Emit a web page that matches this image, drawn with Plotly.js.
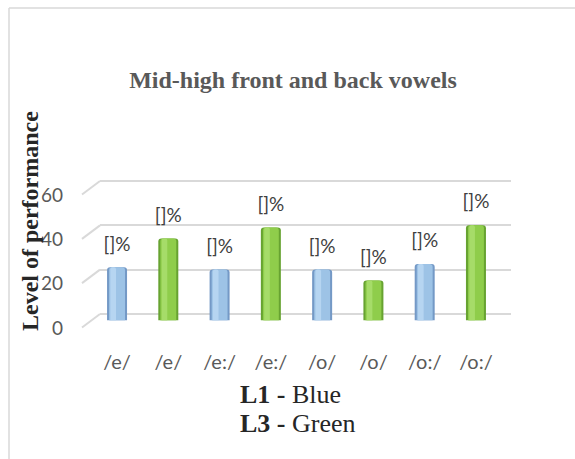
<!DOCTYPE html>
<html><head><meta charset="utf-8">
<script src="https://cdn.plot.ly/plotly-3.0.1.min.js"></script>
<style>html,body{margin:0;padding:0;background:#fff}</style>
</head><body><div id="chart" style="width:575px;height:459px"></div>
<script>
// ---- data ----
const categories = ['/e/', '/e/', '/e:/', '/e:/', '/o/', '/o/', '/o:/', '/o:/'];
const groups = ['L1', 'L3', 'L1', 'L3', 'L1', 'L3', 'L1', 'L3'];
const values = [24, 37, 23, 42, 23, 18, 25.5, 43];
const valueLabels = ['[]%', '[]%', '[]%', '[]%', '[]%', '[]%', '[]%', '[]%'];
const yTicks = [0, 20, 40, 60];
const titleText = 'Mid-high front and back vowels';
const yTitleText = 'Level of performance';
const legendLines = ['<b>L1 -</b> Blue', '<b>L3 -</b> Green'];

// ---- style ----
const W = 575, H = 459;
const px = v => v / W;
const py = v => 1 - v / H;
const palette = {
  L1: {edge: '#7499c6', body: '#9dc3e6', light: '#b6d5f1'},
  L3: {edge: '#67a331', body: '#8fcd4b', light: '#a6dc69'}
};
const idx = categories.map((c, i) => i);
const col = k => groups.map(g => palette[g][k]);

// back-wall geometry (pixels)
const backZero = 314, pxPerUnit = 133 / 60;
const backY = v => backZero - v * pxPerUnit;

const layers = [
  {w: 0.39, k: 'edge', off: null},
  {w: 0.31, k: 'body', off: null},
  {w: 0.11, k: 'light', off: -0.13}
];
const traces = [];
// empty helper trace so the gridline subplot renders
traces.push({type: 'scatter', x: [], y: [], xaxis: 'x', yaxis: 'y', showlegend: false, hoverinfo: 'skip'});
layers.forEach(l => {
  const t = {
    type: 'bar', x: idx, y: values, xaxis: 'x2', yaxis: 'y2',
    width: l.w, marker: {color: col(l.k), line: {width: 0}},
    showlegend: false, hoverinfo: 'skip'
  };
  if (l.off !== null) t.offset = l.off;
  traces.push(t);
});
traces.push({
  type: 'scatter', mode: 'text', x: idx, y: values, text: valueLabels,
  textposition: 'top center', xaxis: 'x2', yaxis: 'y3',
  textfont: {family: 'Lato, sans-serif', size: 19, color: '#404040'},
  showlegend: false, hoverinfo: 'skip', cliponaxis: false
});

const shapes = [
  {type: 'line', xref: 'paper', yref: 'paper', x0: px(9), x1: 1.01, y0: py(8), y1: py(8), line: {color: '#d9d9d9', width: 1.5}},
  {type: 'line', xref: 'paper', yref: 'paper', x0: px(9), x1: px(9), y0: py(8), y1: -0.01, line: {color: '#d9d9d9', width: 1.5}}
];
yTicks.forEach(v => {
  shapes.push({type: 'line', xref: 'paper', yref: 'paper', x0: px(100), x1: px(82), y0: py(backY(v)), y1: py(backY(v) + 13.5),
    line: {color: '#d9d9d9', width: 2}, layer: 'below'});
});

const gridFont = {family: 'Lato, sans-serif', size: 19, color: '#595959'};
const layout = {
  width: W, height: H, margin: {l: 0, r: 0, t: 0, b: 0},
  paper_bgcolor: '#fff', plot_bgcolor: 'rgba(0,0,0,0)',
  barmode: 'overlay', barcornerradius: 3, hovermode: false, showlegend: false,
  title: {text: titleText, x: px(293), xanchor: 'center', y: py(80), yanchor: 'middle',
    font: {family: '"Liberation Serif", "Times New Roman", serif', size: 24, color: '#595959', weight: 'bold'}},
  xaxis: {domain: [px(100), px(511)], range: [-0.5, 7.5], showticklabels: false, showgrid: false, zeroline: false, showline: false, ticks: '', anchor: 'y'},
  yaxis: {domain: [1 - backY(-2) / H, 1 - backY(62) / H], range: [-2, 62], tickvals: yTicks, showgrid: true, gridcolor: '#d9d9d9', gridwidth: 2,
    zeroline: false, showline: false, ticks: '', anchor: 'x', ticklabelshift: 14, ticklabelstandoff: 36,
    tickfont: gridFont},
  xaxis2: {domain: [px(91.4), px(501.6)], range: [-0.5, 7.5], tickvals: idx, ticktext: categories, anchor: 'y2',
    showgrid: false, zeroline: false, showline: false, ticks: '', ticklabelstandoff: 27,
    tickfont: {family: 'Lato, sans-serif', size: 20, color: '#595959'}},
  yaxis2: {domain: [1 - 320.5 / H, 1 - 187.5 / H], range: [0, 60], visible: false, anchor: 'x2'},
  yaxis3: {overlaying: 'y2', range: [-5.4, 54.6], visible: false, anchor: 'x2'},
  shapes: shapes,
  annotations: [
    {text: '<b>' + yTitleText + '</b>', xref: 'paper', yref: 'paper', x: px(30), y: py(221), textangle: -90,
      showarrow: false, xanchor: 'center', yanchor: 'middle',
      font: {family: '"Liberation Serif", "Times New Roman", serif', size: 24, color: '#262626'}},
    {text: legendLines[0], xref: 'paper', yref: 'paper', x: px(238), y: py(394), xanchor: 'left', yanchor: 'middle', showarrow: false,
      font: {family: '"Liberation Serif", "Times New Roman", serif', size: 26, color: '#262626'}},
    {text: legendLines[1], xref: 'paper', yref: 'paper', x: px(238), y: py(423), xanchor: 'left', yanchor: 'middle', showarrow: false,
      font: {family: '"Liberation Serif", "Times New Roman", serif', size: 26, color: '#262626'}}
  ]
};
Plotly.newPlot('chart', traces, layout, {staticPlot: true, displayModeBar: false});
</script></body></html>
